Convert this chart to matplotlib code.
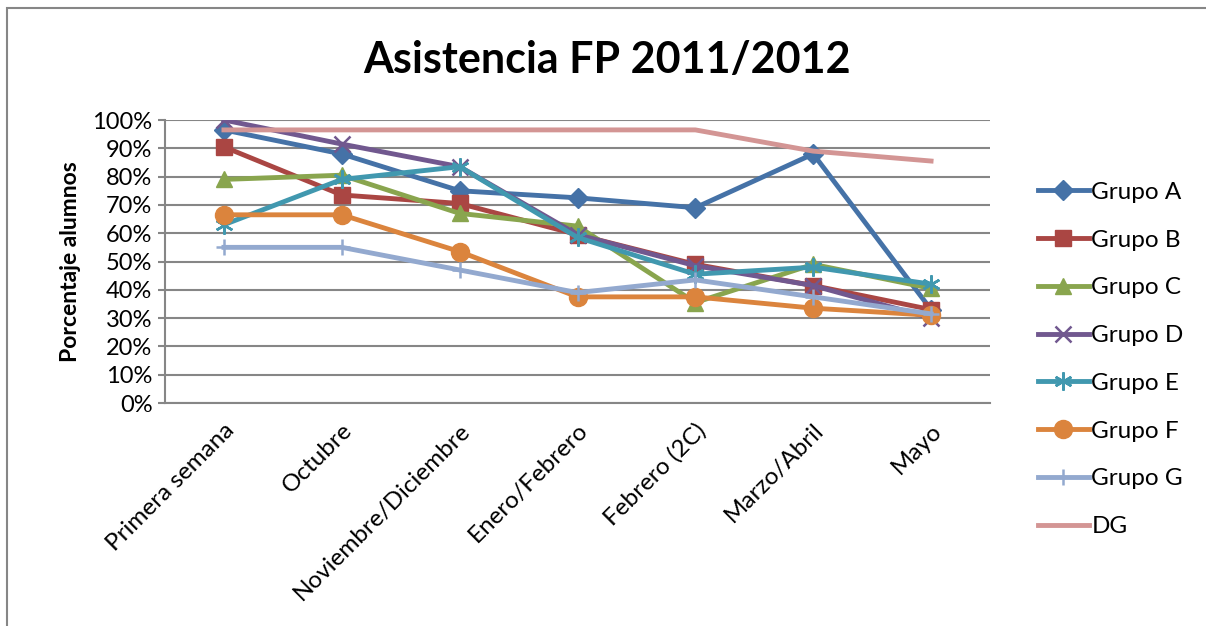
import matplotlib
matplotlib.use("Agg")
import matplotlib.pyplot as plt
from matplotlib.patches import Rectangle
from matplotlib.ticker import PercentFormatter

plt.rcParams['font.family'] = ['Lato', 'DejaVu Sans']

categorias = ["Primera semana", "Octubre", "Noviembre/Diciembre", "Enero/Febrero",
              "Febrero (2C)", "Marzo/Abril", "Mayo"]

grupo_a = [96.5, 88, 75, 72.5, 69, 88, 33]
grupo_b = [90.5, 73.5, 70.5, 59.5, 49, 41.5, 33]
grupo_c = [79, 80.5, 67, 62.5, 35.5, 49, 40.5]
grupo_d = [100, 91.5, 83.5, 59.5, 48.5, 41.5, 30]
grupo_e = [63, 79, 83.5, 58.5, 45.5, 48, 42]
grupo_f = [66.5, 66.5, 53.5, 37.5, 37.5, 33.5, 31]
grupo_g = [55, 55, 47, 39, 43.5, 37.5, 31.5]
dg = [96.5, 96.5, 96.5, 96.5, 96.5, 89, 85.5]

series = [
    ("Grupo A", grupo_a, "#4572A7", "D", 10.5),
    ("Grupo B", grupo_b, "#AA4643", "s", 11),
    ("Grupo C", grupo_c, "#89A54E", "^", 11),
    ("Grupo D", grupo_d, "#71588F", "x", 12),
    ("Grupo E", grupo_e, "#4198AF", (6, 2, 0), 13),
    ("Grupo F", grupo_f, "#DB843D", "o", 13),
    ("Grupo G", grupo_g, "#93A9CF", "+", 12),
    ("DG", dg, "#D39594", None, 0),
]

fig = plt.figure(figsize=(12.06, 6.26), dpi=100)
ax = fig.add_axes([165/1206, 1-403/626, 825/1206, 283/626])

x = range(len(categorias))
for nombre, vals, color, marker, ms in series:
    ax.plot(x, vals, color=color, lw=3.5, marker=marker, markersize=ms,
            markeredgewidth=1.8 if marker in ("x", (6, 2, 0), "+") else 1,
            markeredgecolor=color, label=nombre)

ax.set_xlim(-0.5, 6.5)
ax.set_ylim(0, 100)
ax.set_yticks(range(0, 101, 10))
ax.yaxis.set_major_formatter(PercentFormatter(decimals=0))
ax.set_xticks(list(x))
ax.set_xticklabels(categorias, rotation=45, ha='right', rotation_mode='anchor', fontsize=17.5)
ax.tick_params(axis='y', labelsize=17, length=5, color='#868686', width=1.5, pad=4)
ax.tick_params(axis='x', length=0, pad=12)
ax.grid(axis='y', color='#868686', lw=1.5)
ax.set_axisbelow(True)
for s in ("top", "right"):
    ax.spines[s].set_visible(False)
for s in ("left", "bottom"):
    ax.spines[s].set_color('#868686')
    ax.spines[s].set_linewidth(1.5)

ax.set_ylabel("Porcentaje alumnos", fontsize=16.5, fontweight='bold', labelpad=8)
fig.text(607/1206, 1-60/626, "Asistencia FP 2011/2012", fontsize=31, fontweight='bold',
         ha='center', va='center')

fig.legend(loc='upper left', bbox_to_anchor=(1016/1206, 1-160/626), frameon=False,
           fontsize=17.5, labelspacing=1.1, handlelength=2.1, handletextpad=0.1)

fig.patches.append(Rectangle((7/1206, -0.1), 1.2, 1-8/626+0.1, transform=fig.transFigure,
                             fill=False, edgecolor='#868686', lw=1.5))

fig.savefig("out.png", dpi=100)
